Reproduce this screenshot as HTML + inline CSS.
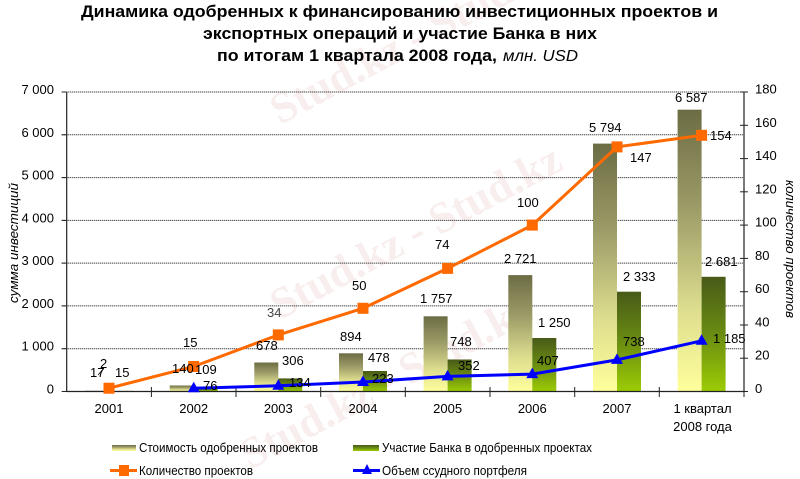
<!DOCTYPE html>
<html><head><meta charset="utf-8"><style>
html,body{margin:0;padding:0;background:#fff;}
svg{display:block;}
text{font-family:"Liberation Sans",Arial,sans-serif;fill:#000;}
</style></head><body>
<svg width="800" height="479" viewBox="0 0 800 479" xmlns="http://www.w3.org/2000/svg">
<defs>
<linearGradient id="gl" x1="0" y1="0" x2="0" y2="1">
<stop offset="0" stop-color="#6c6c44"/>
<stop offset="0.35" stop-color="#9c9c68"/>
<stop offset="0.7" stop-color="#dcdc8e"/>
<stop offset="1" stop-color="#ffff9c"/>
</linearGradient>
<linearGradient id="gg" x1="0" y1="0" x2="0" y2="1">
<stop offset="0" stop-color="#485a18"/>
<stop offset="0.5" stop-color="#6a8c12"/>
<stop offset="1" stop-color="#9ccc04"/>
</linearGradient>
</defs>

<!-- watermarks -->
<g font-weight="bold" font-size="44">
<text x="280" y="125" transform="rotate(-28 280 125)" style="font-family:'Liberation Serif',serif;fill:#f8eeee">Stud.kz - Stud.kz</text>
<text x="280" y="320" transform="rotate(-28 280 320)" style="font-family:'Liberation Serif',serif;fill:#f8eeee">Stud.kz - Stud.kz</text>
<text x="250" y="470" transform="rotate(-28 250 470)" style="font-family:'Liberation Serif',serif;fill:#f8eeee">Stud.kz - Stud.kz</text>
</g>

<!-- title -->
<text x="399.5" y="17" text-anchor="middle" font-size="17" font-weight="bold" textLength="637" lengthAdjust="spacingAndGlyphs">Динамика одобренных к финансированию инвестиционных проектов и</text>
<text x="400" y="39" text-anchor="middle" font-size="17" font-weight="bold" textLength="394" lengthAdjust="spacingAndGlyphs">экспортных операций и участие Банка в них</text>
<text x="217" y="61" font-size="17" font-weight="bold" textLength="280" lengthAdjust="spacingAndGlyphs">по итогам 1 квартала 2008 года,</text>
<text x="503" y="61" font-size="16" font-style="italic" textLength="75" lengthAdjust="spacingAndGlyphs">млн. USD</text>

<!-- gridlines -->
<g stroke="#333" stroke-width="1" stroke-dasharray="1.2 0.8">
<line x1="61.7" y1="92" x2="744" y2="92"/>
<line x1="61.7" y1="134.8" x2="744" y2="134.8"/>
<line x1="61.7" y1="177.6" x2="744" y2="177.6"/>
<line x1="61.7" y1="220.4" x2="744" y2="220.4"/>
<line x1="61.7" y1="263.1" x2="744" y2="263.1"/>
<line x1="61.7" y1="305.9" x2="744" y2="305.9"/>
<line x1="61.7" y1="348.7" x2="744" y2="348.7"/>
</g>
<g stroke="#222" stroke-width="1">
<line x1="61.7" y1="92" x2="66.7" y2="92"/>
<line x1="61.7" y1="134.8" x2="66.7" y2="134.8"/>
<line x1="61.7" y1="177.6" x2="66.7" y2="177.6"/>
<line x1="61.7" y1="220.4" x2="66.7" y2="220.4"/>
<line x1="61.7" y1="263.1" x2="66.7" y2="263.1"/>
<line x1="61.7" y1="305.9" x2="66.7" y2="305.9"/>
<line x1="61.7" y1="348.7" x2="66.7" y2="348.7"/>
<line x1="61.7" y1="391.5" x2="66.7" y2="391.5"/>
</g>

<!-- bars -->
<g fill="url(#gl)">
<rect x="85" y="390.8" width="24" height="0.7"/>
<rect x="169.7" y="385.5" width="24" height="6"/>
<rect x="254.3" y="362.5" width="24" height="29"/>
<rect x="339" y="353.3" width="24" height="38.2"/>
<rect x="423.6" y="316.3" width="24" height="75.2"/>
<rect x="508.3" y="275.1" width="24" height="116.4"/>
<rect x="593" y="143.6" width="24" height="247.9"/>
<rect x="677.6" y="109.7" width="24" height="281.8"/>
</g>
<g fill="url(#gg)">
<rect x="109" y="390.9" width="24" height="0.6"/>
<rect x="193.7" y="386.8" width="24" height="4.7"/>
<rect x="278.3" y="378.4" width="24" height="13.1"/>
<rect x="363" y="371" width="24" height="20.5"/>
<rect x="447.6" y="359.5" width="24" height="32"/>
<rect x="532.3" y="338" width="24" height="53.5"/>
<rect x="617" y="291.7" width="24" height="99.8"/>
<rect x="701.6" y="276.8" width="24" height="114.7"/>
</g>

<!-- axes -->
<g stroke="#222" stroke-width="1.2">
<line x1="66.7" y1="92" x2="66.7" y2="392"/>
<line x1="744" y1="92" x2="744" y2="392"/>
<line x1="66.7" y1="391.5" x2="744" y2="391.5"/>
</g>
<g stroke="#222" stroke-width="1">
<line x1="151.4" y1="387" x2="151.4" y2="397"/>
<line x1="236" y1="387" x2="236" y2="397"/>
<line x1="320.7" y1="387" x2="320.7" y2="397"/>
<line x1="405.3" y1="387" x2="405.3" y2="397"/>
<line x1="490" y1="387" x2="490" y2="397"/>
<line x1="574.7" y1="387" x2="574.7" y2="397"/>
<line x1="659.3" y1="387" x2="659.3" y2="397"/>
<line x1="744" y1="387" x2="744" y2="397"/>
<line x1="740" y1="92" x2="748" y2="92"/>
<line x1="740" y1="125.3" x2="748" y2="125.3"/>
<line x1="740" y1="158.6" x2="748" y2="158.6"/>
<line x1="740" y1="191.8" x2="748" y2="191.8"/>
<line x1="740" y1="225.1" x2="748" y2="225.1"/>
<line x1="740" y1="258.4" x2="748" y2="258.4"/>
<line x1="740" y1="291.7" x2="748" y2="291.7"/>
<line x1="740" y1="325" x2="748" y2="325"/>
<line x1="740" y1="358.2" x2="748" y2="358.2"/>
<line x1="740" y1="391.5" x2="748" y2="391.5"/>
</g>

<!-- left tick labels -->
<g font-size="13" text-anchor="end">
<text x="54" y="94">7 000</text>
<text x="54" y="136.8">6 000</text>
<text x="54" y="179.6">5 000</text>
<text x="54" y="222.4">4 000</text>
<text x="54" y="265.1">3 000</text>
<text x="54" y="307.9">2 000</text>
<text x="54" y="350.7">1 000</text>
<text x="54" y="393.5">0</text>
</g>
<!-- right tick labels -->
<g font-size="13">
<text x="755" y="93.5">180</text>
<text x="755" y="126.8">160</text>
<text x="755" y="160.1">140</text>
<text x="755" y="193.3">120</text>
<text x="755" y="226.6">100</text>
<text x="755" y="259.9">80</text>
<text x="755" y="293.2">60</text>
<text x="755" y="326.5">40</text>
<text x="755" y="359.7">20</text>
<text x="755" y="393">0</text>
</g>
<!-- x labels -->
<g font-size="13" text-anchor="middle">
<text x="109" y="413">2001</text>
<text x="193.7" y="413">2002</text>
<text x="278.3" y="413">2003</text>
<text x="363" y="413">2004</text>
<text x="447.6" y="413">2005</text>
<text x="532.3" y="413">2006</text>
<text x="617" y="413">2007</text>
<text x="702.5" y="413">1 квартал</text>
<text x="702.5" y="431">2008 года</text>
</g>

<!-- axis titles -->
<text transform="translate(18 243) rotate(-90)" text-anchor="middle" font-size="13" font-style="italic" textLength="120" lengthAdjust="spacingAndGlyphs">сумма инвестиций</text>
<text transform="translate(786 249) rotate(90)" text-anchor="middle" font-size="13" font-style="italic" textLength="138" lengthAdjust="spacingAndGlyphs">количество проектов</text>

<!-- orange line -->
<polyline fill="none" stroke="#ff6a00" stroke-width="3" points="109,388.2 193.7,366.5 278.3,334.9 363,308.3 447.6,268.4 532.3,225.1 617,146.9 701.6,135.3"/>
<g fill="#ff6a00">
<rect x="103.5" y="382.7" width="11" height="11"/>
<rect x="188.2" y="361" width="11" height="11"/>
<rect x="272.8" y="329.4" width="11" height="11"/>
<rect x="357.5" y="302.8" width="11" height="11"/>
<rect x="442.1" y="262.9" width="11" height="11"/>
<rect x="526.8" y="219.6" width="11" height="11"/>
<rect x="611.5" y="141.4" width="11" height="11"/>
<rect x="696.1" y="129.8" width="11" height="11"/>
</g>

<!-- blue line -->
<polyline fill="none" stroke="#0000ff" stroke-width="3" points="193.7,388.2 278.3,385.8 363,382 447.6,376.4 532.3,374.1 617,359.9 701.6,340.8"/>
<g fill="#0000ff">
<polygon points="193.7,381.7 199.7,392.2 187.7,392.2"/>
<polygon points="278.3,379.3 284.3,389.8 272.3,389.8"/>
<polygon points="363,375.5 369,386 357,386"/>
<polygon points="447.6,369.9 453.6,380.4 441.6,380.4"/>
<polygon points="532.3,367.6 538.3,378.1 526.3,378.1"/>
<polygon points="617,353.4 623,363.9 611,363.9"/>
<polygon points="701.6,334.3 707.6,344.8 695.6,344.8"/>
</g>

<!-- data labels -->
<g font-size="13">
<text x="90" y="377">17</text>
<text x="100" y="368">2</text>
<line x1="98" y1="375" x2="104" y2="368" stroke="#000" stroke-width="0.8"/>
<text x="115" y="377">15</text>
<text x="183" y="347">15</text>
<text x="172" y="373">140</text>
<text x="195" y="374">109</text>
<text x="203" y="390">76</text>
<text x="267" y="317" style="fill:#444">34</text>
<text x="256" y="350">678</text>
<text x="282" y="365">306</text>
<text x="289" y="387">134</text>
<text x="352" y="290">50</text>
<text x="340" y="341">894</text>
<text x="368" y="362">478</text>
<text x="372" y="383">223</text>
<text x="435" y="249">74</text>
<text x="420" y="303">1 757</text>
<text x="450" y="346">748</text>
<text x="458" y="370">352</text>
<text x="517" y="207">100</text>
<text x="504" y="263">2 721</text>
<text x="538" y="327">1 250</text>
<text x="537" y="365">407</text>
<text x="589" y="132">5 794</text>
<text x="630" y="162">147</text>
<text x="623" y="281">2 333</text>
<text x="623" y="346">738</text>
<text x="675" y="102">6 587</text>
<text x="710" y="140">154</text>
<text x="705" y="266">2 681</text>
<text x="713" y="343">1 185</text>
</g>

<!-- legend -->
<rect x="112" y="445" width="24" height="6" fill="url(#gl)"/>
<text x="139" y="452" font-size="13" textLength="179" lengthAdjust="spacingAndGlyphs">Стоимость одобренных проектов</text>
<rect x="353" y="445" width="26" height="6" fill="url(#gg)"/>
<text x="382" y="452" font-size="13" textLength="210" lengthAdjust="spacingAndGlyphs">Участие Банка в одобренных проектах</text>
<line x1="110" y1="470.5" x2="137" y2="470.5" stroke="#ff6a00" stroke-width="3"/>
<rect x="119" y="465" width="10" height="11" fill="#ff6a00"/>
<text x="139" y="475" font-size="13" textLength="114" lengthAdjust="spacingAndGlyphs">Количество проектов</text>
<line x1="353" y1="470.5" x2="380" y2="470.5" stroke="#0000ff" stroke-width="3"/>
<polygon points="367,464 372,474 362,474" fill="#0000ff"/>
<text x="382" y="475" font-size="13" textLength="145" lengthAdjust="spacingAndGlyphs">Объем ссудного портфеля</text>
</svg>
</body></html>
